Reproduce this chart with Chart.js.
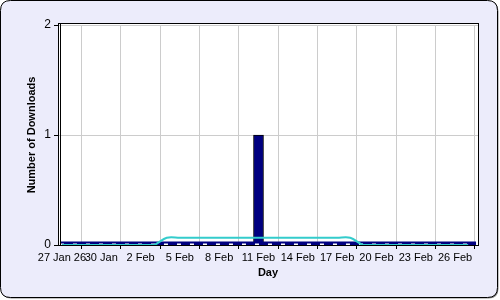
<!DOCTYPE html>
<html><head><meta charset="utf-8">
<script src="https://cdn.jsdelivr.net/npm/chart.js@4"></script>
<style>html,body{margin:0;padding:0;background:#fff}#wrap{width:500px;height:300px}</style>
</head><body><div id="wrap"><canvas id="c" width="500" height="300"></canvas></div>
<script>
// Days from 27 Jan (index 0) to 27 Feb (index 31)
const dayIndex = [0,1,2,3,4,5,6,7,8,9,10,11,12,13,14,15,16,17,18,19,20,21,22,23,24,25,26,27,28,29,30,31];
const downloads = [0,0,0,0,0,0,0,0,0,0,0,0,0,0,0,1,0,0,0,0,0,0,0,0,0,0,0,0,0,0,0,0];
const movingAvg = [0,0,0,0,0,0,0,0,0.0667,0.0667,0.0667,0.0667,0.0667,0.0667,0.0667,0.0667,0.0667,0.0667,0.0667,0.0667,0.0667,0.0667,0.0667,0,0,0,0,0,0,0,0,0];
const tickValues = [0,3,6,9,12,15,18,21,24,27,30];
const tickLabels = ['27 Jan 26','30 Jan','2 Feb','5 Feb','8 Feb','11 Feb','14 Feb','17 Feb','20 Feb','23 Feb','26 Feb'];
const yTicks = [0,1,2];
const xMin = -0.3, xMax = 31.75;

const frame = {
  id:'frame',
  beforeDraw(chart){
    const ctx = chart.ctx, a = chart.chartArea;
    ctx.save();
    function rr(x,y,w,h,r){ctx.beginPath();ctx.moveTo(x+r,y);ctx.lineTo(x+w-r,y);ctx.quadraticCurveTo(x+w,y,x+w,y+r);ctx.lineTo(x+w,y+h-r);ctx.quadraticCurveTo(x+w,y+h,x+w-r,y+h);ctx.lineTo(x+r,y+h);ctx.quadraticCurveTo(x,y+h,x,y+h-r);ctx.lineTo(x,y+r);ctx.quadraticCurveTo(x,y,x+r,y);ctx.closePath();}
    rr(1.5,1.5,497,297,10); ctx.fillStyle='#888'; ctx.fill();
    rr(0.5,0.5,497,297,10); ctx.fillStyle='#ececfb'; ctx.fill();
    ctx.strokeStyle='#000'; ctx.lineWidth=1; ctx.stroke();
    ctx.fillStyle='#fff'; ctx.fillRect(a.left,a.top-2,a.right-a.left,a.bottom-a.top+2);
    ctx.restore();
  },
  afterDraw(chart){
    const ctx = chart.ctx, a = chart.chartArea;
    ctx.save(); ctx.strokeStyle='#000'; ctx.lineWidth=1;
    ctx.strokeRect(a.left+0.5,a.top-1.5,a.right-a.left,a.bottom-a.top+2);
    ctx.beginPath(); ctx.moveTo(a.left+2.5,a.top-2); ctx.lineTo(a.left+2.5,a.bottom); ctx.stroke();
    ctx.restore();
  }
};

const baseData = [{x:xMin+0.15,y:0}].concat(dayIndex.map(d=>({x:d,y:0}))).concat([{x:xMax-0.15,y:0}]);
const clipBottom = {left:false, top:false, right:false, bottom:0};

new Chart(document.getElementById('c'), {
  type:'bar',
  data:{
    datasets:[
      {type:'line', label:'avg', data: dayIndex.map((d,i)=>({x:d,y:movingAvg[i]})), borderColor:'#33cccc', borderWidth:2, pointRadius:0, tension:0.35, fill:false, order:0, clip:false},
      {type:'line', label:'tops', data: baseData, borderColor:'#fff', borderWidth:3, borderDash:[4,9], pointRadius:0, order:1, clip:clipBottom},
      {type:'line', label:'base', data: baseData, borderColor:'#000080', borderWidth:7, pointRadius:0, order:2, clip:clipBottom},
      {type:'bar', label:'Downloads', data: dayIndex.map((d,i)=>({x:d,y:downloads[i]})), backgroundColor:'#000080', borderColor:'#000', borderWidth:1, barThickness:10, order:3}
    ]
  },
  options:{
    responsive:false, animation:false,
    layout:{padding:{top:25,right:22,left:0,bottom:0}},
    plugins:{legend:{display:false},tooltip:{enabled:false}},
    scales:{
      x:{type:'linear', min:xMin, max:xMax, offset:false,
        afterBuildTicks(s){ s.ticks = tickValues.map(v=>({value:v})); },
        afterFit(s){ s.height = 55; },
        grid:{color:'#cccccc', tickColor:'#000', tickLength:4, drawTicks:true},
        border:{color:'#000'},
        ticks:{autoSkip:false, maxRotation:0, padding:2, color:'#000', font:{family:'Liberation Sans', size:11},
          callback(v){ const i = tickValues.indexOf(v); return i>=0 ? tickLabels[i] : ''; }},
        title:{display:true, text:'Day', color:'#000', font:{family:'Liberation Sans', size:11, weight:'bold'}, padding:{top:0,bottom:20}}
      },
      y:{min:0, max:2,
        afterBuildTicks(s){ s.ticks = yTicks.map(v=>({value:v})); },
        afterFit(s){ s.width = 58; },
        grid:{color:'#cccccc', tickColor:'#000', tickLength:4},
        border:{color:'#000'},
        ticks:{padding:3, color:'#000', font:{family:'Liberation Sans', size:12}},
        title:{display:true, text:'Number of Downloads', color:'#000', font:{family:'Liberation Sans', size:11, weight:'bold'}, padding:{top:25,bottom:0}}
      }
    }
  },
  plugins:[frame]
});
</script></body></html>
